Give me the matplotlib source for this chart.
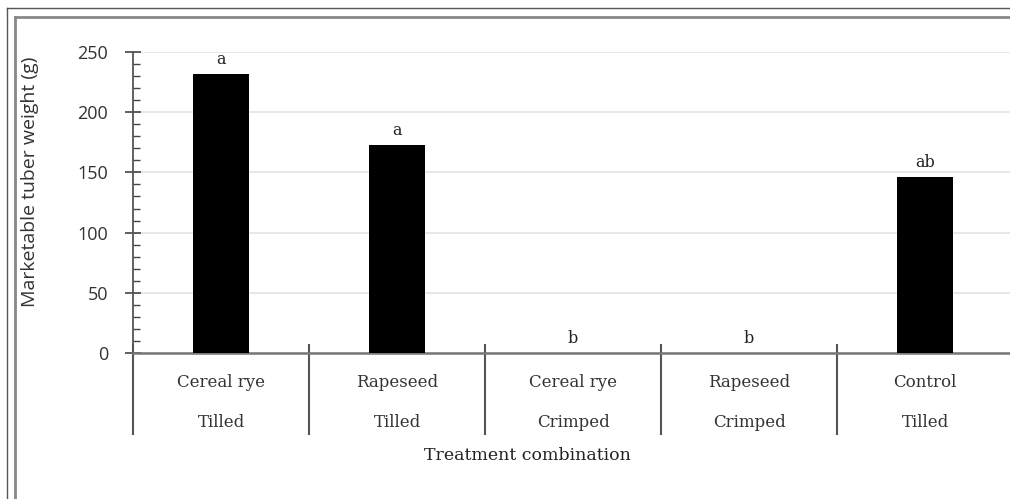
import matplotlib
matplotlib.use("Agg")
import matplotlib.pyplot as plt
import matplotlib.transforms as mtransforms
from matplotlib.lines import Line2D
from matplotlib.ticker import MultipleLocator

cover_crop = ["Cereal rye", "Rapeseed", "Cereal rye", "Rapeseed", "Control"]
termination = ["Tilled", "Tilled", "Crimped", "Crimped", "Tilled"]
weight = [232, 173, 0, 0, 146]
letters = ["a", "a", "b", "b", "ab"]

SERIF = "DejaVu Serif"
SANS = "Open Sans"

W, H = 1010, 499
fig = plt.figure(figsize=(W / 100, H / 100), dpi=100)

# axes placed in pixel units; right side runs past the figure edge like the reference crop
left, right, top, bottom = 133, 1013, 52, 353
ax = fig.add_axes([left / W, 1 - bottom / H, (right - left) / W, (bottom - top) / H])

x = list(range(len(weight)))
ax.bar(x, weight, width=0.32, color="black", zorder=3)
ax.set_xlim(-0.5, len(weight) - 0.5)
ax.set_ylim(0, 250)

for xi, v, lab in zip(x, weight, letters):
    ax.text(xi, v + 5, lab, ha="center", va="bottom", fontsize=11.5, family=SERIF, color="#222222")

ax.yaxis.set_major_locator(MultipleLocator(50))
ax.yaxis.set_minor_locator(MultipleLocator(10))
ax.grid(axis="y", color="#e6e6e6", linewidth=1.3, zorder=0)
ax.set_xticks([])
ax.tick_params(axis="y", which="major", length=12, direction="inout", width=1.2,
               color="#444444", labelsize=13, pad=12)
ax.tick_params(axis="y", which="minor", length=5, direction="in", width=1.0, color="#444444")
for lab in ax.get_yticklabels():
    lab.set_family(SANS)
    lab.set_color("#333333")

for s in ["top", "right"]:
    ax.spines[s].set_visible(False)
ax.spines["left"].set_color("#555555")
ax.spines["left"].set_linewidth(1.3)
ax.spines["bottom"].set_color("#777777")
ax.spines["bottom"].set_linewidth(1.8)

# two-level category axis with separators
trans = mtransforms.blended_transform_factory(ax.transData, ax.transAxes)
for b in [i - 0.5 for i in range(len(weight) + 1)]:
    ax.add_line(Line2D([b, b], [0.026, -0.27], transform=trans, color="#555555",
                       linewidth=1.5, clip_on=False))
for xi, c, t in zip(x, cover_crop, termination):
    ax.text(xi, -0.097, c, transform=trans, ha="center", va="center",
            fontsize=12, family=SERIF, color="#333333")
    ax.text(xi, -0.23, t, transform=trans, ha="center", va="center",
            fontsize=12, family=SERIF, color="#333333")

fig.text(527 / W, 1 - 455 / H, "Treatment combination", ha="center", va="center",
         fontsize=12.5, family=SERIF, color="#222222")
fig.text(30 / W, 1 - 182 / H, "Marketable tuber weight (g)", ha="center", va="center",
         rotation=90, fontsize=14, family=SANS, color="#333333")

# outer frame lines
fig.add_artist(Line2D([7 / W, 7 / W], [0, 1 - 8 / H], transform=fig.transFigure,
                      color="#555555", linewidth=1.0))
fig.add_artist(Line2D([7 / W, 1], [1 - 8 / H, 1 - 8 / H], transform=fig.transFigure,
                      color="#555555", linewidth=1.0))
fig.add_artist(Line2D([15 / W, 15 / W], [0, 1 - 17 / H], transform=fig.transFigure,
                      color="#888888", linewidth=2.0))
fig.add_artist(Line2D([15 / W, 1], [1 - 17 / H, 1 - 17 / H], transform=fig.transFigure,
                      color="#888888", linewidth=2.0))

fig.savefig("out.png", dpi=100)
